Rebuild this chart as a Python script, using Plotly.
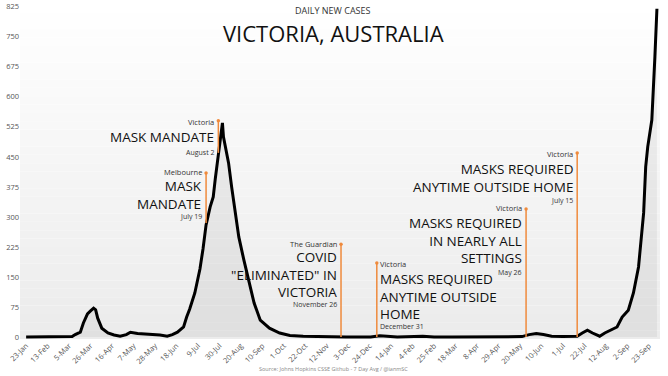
import plotly.graph_objects as go

# ---- data: 7-day average daily new cases ----
dates = [
    "2020-01-23", "2020-02-10", "2020-02-25", "2020-03-08", "2020-03-11", "2020-03-16",
    "2020-03-19", "2020-03-23", "2020-03-26", "2020-03-29", "2020-03-31", "2020-04-02",
    "2020-04-06", "2020-04-12", "2020-04-18", "2020-04-24", "2020-04-30", "2020-05-04",
    "2020-05-11", "2020-05-18", "2020-05-26", "2020-06-02", "2020-06-09", "2020-06-14",
    "2020-06-19", "2020-06-25", "2020-06-28", "2020-07-01", "2020-07-06", "2020-07-11",
    "2020-07-14", "2020-07-17", "2020-07-21", "2020-07-24", "2020-07-26", "2020-07-29",
    "2020-07-31", "2020-08-02", "2020-08-03", "2020-08-05", "2020-08-08", "2020-08-11",
    "2020-08-14", "2020-08-18", "2020-08-23", "2020-08-28", "2020-09-02", "2020-09-08",
    "2020-09-17", "2020-09-27", "2020-10-07", "2020-10-20", "2020-11-01", "2020-11-15",
    "2020-12-01", "2020-12-25", "2021-01-03", "2021-01-10", "2021-01-20", "2021-02-14",
    "2021-02-25", "2021-03-15", "2021-04-15", "2021-05-15", "2021-05-22", "2021-05-29",
    "2021-06-05", "2021-06-12", "2021-06-20", "2021-07-01", "2021-07-15", "2021-07-20",
    "2021-07-25", "2021-07-30", "2021-08-06", "2021-08-11", "2021-08-16", "2021-08-23",
    "2021-08-28", "2021-09-03", "2021-09-08", "2021-09-13", "2021-09-18", "2021-09-20",
    "2021-09-22", "2021-09-26", "2021-09-29", "2021-10-01",
]
avg_cases = [
    0, 0, 1, 1, 6, 12,
    35, 58, 65, 72, 68, 47,
    22, 10, 5, 2, 6, 12,
    9, 8, 6, 5, 2, 6,
    12, 25, 50, 70, 110, 170,
    220, 280, 325, 350, 395, 460,
    490, 535, 500, 475, 435, 375,
    317, 250, 192, 135, 85, 42,
    22, 10, 4, 2, 1, 0,
    0, 0, 3, 2, 0, 2,
    0, 0, 0, 0, 1, 6,
    9, 6, 2, 1, 2, 10,
    17, 10, 2, 10, 17, 25,
    50, 67, 110, 175, 310, 425,
    475, 542, 700, 820,
]

y_ticks = list(range(0, 826, 75))

# ---- event annotations ----
event_line_dates = ["2020-07-29", "2020-07-17", "2020-11-26", "2020-12-31", "2021-05-26", "2021-07-15"]
event_line_top = [540, 410, 232, 185, 320, 460]
event_line_bottom = [460, 285, 0, 0, 0, 0]
event_sources = ["Victoria", "Melbourne", "The Guardian", "Victoria", "Victoria", "Victoria"]
event_headlines = [
    ["MASK MANDATE"],
    ["MASK", "MANDATE"],
    ["COVID", "\"ELIMINATED\" IN", "VICTORIA"],
    ["MASKS REQUIRED", "ANYTIME OUTSIDE", "HOME"],
    ["MASKS REQUIRED", "IN NEARLY ALL", "SETTINGS"],
    ["MASKS REQUIRED", "ANYTIME OUTSIDE HOME"],
]
event_labels = ["August 2", "July 19", "November 26", "December 31", "May 26", "July 15"]
event_side = ["left", "left", "left", "right", "left", "left"]
# y values (data units) of source line, headline block centre, date line
event_src_y = [537, 412, 233, 182, 322, 457]
event_head_y = [500, 355, 155, 102, 242, 398]
event_date_y = [461, 300, 82, 25, 162, 340]

FONT = "Open Sans"
ORANGE = "#ef8a3c"

fig = go.Figure()

fig.add_trace(go.Scatter(
    x=dates, y=avg_cases, mode="lines",
    line=dict(color="#000000", width=3),
    fill="tozeroy", fillcolor="rgba(0,0,0,0.05)",
    hoverinfo="skip",
))

shapes = []
# light vertical gradient in plot area
n_bands = 40
for i in range(n_bands):
    t = i / (n_bands - 1)
    c = int(236 + (255 - 236) * t)
    shapes.append(dict(
        type="rect", xref="paper", yref="paper",
        x0=0, x1=1, y0=i / n_bands, y1=(i + 1) / n_bands,
        fillcolor=f"rgb({c},{c},{c})", line=dict(width=0), layer="below",
    ))

annotations = []
for d, top, bot, src, heads, lab, side, ys, yh, yd in zip(
        event_line_dates, event_line_top, event_line_bottom, event_sources,
        event_headlines, event_labels, event_side, event_src_y, event_head_y, event_date_y):
    shapes.append(dict(type="line", xref="x", yref="y", x0=d, x1=d, y0=bot, y1=top,
                       line=dict(color=ORANGE, width=1.5)))
    anchor = "right" if side == "left" else "left"
    shift = -2 if side == "left" else 1
    rows = [
        (src, 7.5, "#333333", ys),
        ("<br>".join(heads), 13.5, "#111111", yh),
        (lab, 7, "#333333", yd),
    ]
    for txt, sz, col, yy in rows:
        annotations.append(dict(
            x=d, y=yy, xref="x", yref="y", text=txt, showarrow=False,
            xanchor=anchor, xshift=shift, yanchor="middle", align=anchor,
            font=dict(family=FONT, size=sz, color=col),
        ))

fig.add_trace(go.Scatter(
    x=event_line_dates, y=event_line_top, mode="markers",
    marker=dict(color=ORANGE, size=3.5), hoverinfo="skip",
))

# titles (pixel rows measured from the top of the 376px figure)
title_anns = [
    ("DAILY NEW CASES", 10.5, dict(family=FONT, size=9, color="#333333")),
    ("VICTORIA, AUSTRALIA", 33, dict(family=FONT, size=22, color="#111111")),
    ("Source: Johns Hopkins CSSE Github - 7 Day Avg / @ianmSC", 369,
     dict(family=FONT, size=5.5, color="#888888")),
]
for txt, py, f in title_anns:
    annotations.append(dict(
        text=txt, xref="paper", yref="paper", x=(333 - 20) / 640,
        y=(339 - py) / 335, yanchor="middle", xanchor="center", showarrow=False,
        font=f,
    ))

fig.update_layout(
    width=668, height=376,
    margin=dict(l=20, r=8, t=4, b=37, autoexpand=False),
    paper_bgcolor="#ffffff", plot_bgcolor="#ffffff",
    showlegend=False,
    shapes=shapes, annotations=annotations,
    xaxis=dict(
        range=["2020-01-17", "2021-10-04"],
        tickmode="linear", tick0="2020-01-23", dtick=21 * 86400000,
        tickformat="%-d-%b", tickangle=-45,
        tickfont=dict(family=FONT, size=7.5, color="#555555"),
        showgrid=False, zeroline=False, showline=False, ticks="",
        automargin=False,
    ),
    yaxis=dict(
        range=[-5, 832], tickmode="array", tickvals=y_ticks,
        tickfont=dict(family=FONT, size=7.5, color="#555555"),
        showgrid=False, zeroline=False, showline=False, ticks="",
        automargin=False,
    ),
)

fig.write_html(
    "out.html",
    config={"displayModeBar": False},
    post_script="document.body.style.margin='0';document.body.style.overflow='hidden';",
)
